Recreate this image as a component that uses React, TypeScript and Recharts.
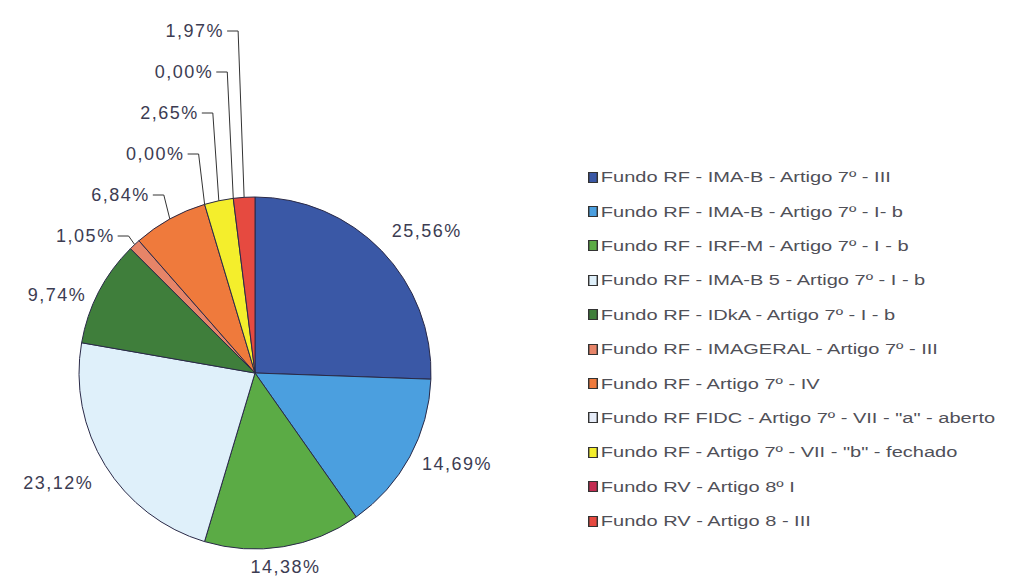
import { PieChart, Pie, Cell, Legend } from "recharts";

const categories = [
  "Fundo RF - IMA-B - Artigo 7º - III",
  "Fundo RF - IMA-B - Artigo 7º - I- b",
  "Fundo RF - IRF-M - Artigo 7º - I - b",
  "Fundo RF - IMA-B 5 - Artigo 7º - I - b",
  "Fundo RF - IDkA - Artigo 7º - I - b",
  "Fundo RF - IMAGERAL - Artigo 7º - III",
  "Fundo RF - Artigo 7º - IV",
  'Fundo RF FIDC - Artigo 7º - VII - "a" - aberto',
  'Fundo RF - Artigo 7º - VII - "b" - fechado',
  "Fundo RV - Artigo 8º I",
  "Fundo RV - Artigo 8 - III",
];

const shares = [25.56, 14.69, 14.38, 23.12, 9.74, 1.05, 6.84, 0.0, 2.65, 0.0, 1.97];

const colors = [
  "#3a58a6",
  "#4b9fdf",
  "#5bab45",
  "#dff0fa",
  "#3f7e3b",
  "#e68468",
  "#ef7a3c",
  "#e6ecf8",
  "#f4ee2c",
  "#c42c52",
  "#e64a40",
];

const data = categories.map((name, i) => ({ name, value: shares[i] }));

const RADIAN = Math.PI / 180;
const labelColor = "#3c3c52";
const labelFont = "'Liberation Sans', Arial, sans-serif";

function fmt(v: number) {
  return v.toFixed(2).replace(".", ",") + "%";
}

function renderLabel(props: any) {
  const { cx, cy, midAngle, outerRadius, index, value } = props;
  const cos = Math.cos(-midAngle * RADIAN);
  const sin = Math.sin(-midAngle * RADIAN);
  const textStyle = {
    fontFamily: labelFont,
    fontSize: 18,
    letterSpacing: 1.5,
    fill: labelColor,
  };

  // small slices near the top: stacked labels with leader lines
  if (index >= 5) {
    const ex = cx + outerRadius * cos;
    const ey = cy + outerRadius * sin;
    const ly = cy - outerRadius - 166 + (categories.length - 1 - index) * 41;
    const tx = ex - 20;
    return (
      <g key={`lbl-${index}`}>
        <text x={tx} y={ly} textAnchor="end" dominantBaseline="central" style={textStyle}>
          {fmt(value)}
        </text>
        <path
          d={`M${tx + 3},${ly} L${ex - 6},${ly} L${ex},${ey}`}
          stroke="#333"
          strokeWidth={1}
          fill="none"
        />
      </g>
    );
  }

  const r = outerRadius + 14;
  let x = cx + r * cos;
  let y = cy + r * sin;
  let anchor: "start" | "end" | "middle" = "middle";
  if (cos > 0.3) {
    anchor = "start";
    if (sin < 0) y -= 10;
  } else if (cos < -0.3) {
    anchor = "end";
    y += 10;
  } else y += 6;
  return (
    <text
      key={`lbl-${index}`}
      x={x}
      y={y}
      textAnchor={anchor}
      dominantBaseline="central"
      style={textStyle}
    >
      {fmt(value)}
    </text>
  );
}

function LegendList() {
  return (
    <div
      style={{
        fontFamily: labelFont,
        fontSize: 14,
        color: "#505058",
        transform: "scaleX(1.43)",
        transformOrigin: "left top",
        whiteSpace: "nowrap",
      }}
    >
      {categories.map((name, i) => (
        <div
          key={name}
          style={{ height: 34.4, display: "flex", alignItems: "center" }}
        >
          <span
            style={{
              display: "inline-block",
              width: 5,
              height: 9,
              background: colors[i],
              border: "1px solid #333",
              marginRight: 2,
            }}
          />
          {name}
        </div>
      ))}
    </div>
  );
}

export default function App() {
  return (
    <PieChart width={994} height={571}>
      <Pie
        data={data}
        dataKey="value"
        nameKey="name"
        cx={242}
        cy={360}
        outerRadius={176}
        startAngle={90}
        endAngle={-270}
        stroke="#2a2a48"
        strokeWidth={1}
        label={renderLabel}
        labelLine={false}
        isAnimationActive={false}
      >
        {data.map((entry, i) => (
          <Cell key={entry.name} fill={colors[i]} />
        ))}
      </Pie>
      <Legend
        layout="vertical"
        content={() => <LegendList />}
        wrapperStyle={{ left: 580, top: 152, width: 420 }}
      />
    </PieChart>
  );
}
